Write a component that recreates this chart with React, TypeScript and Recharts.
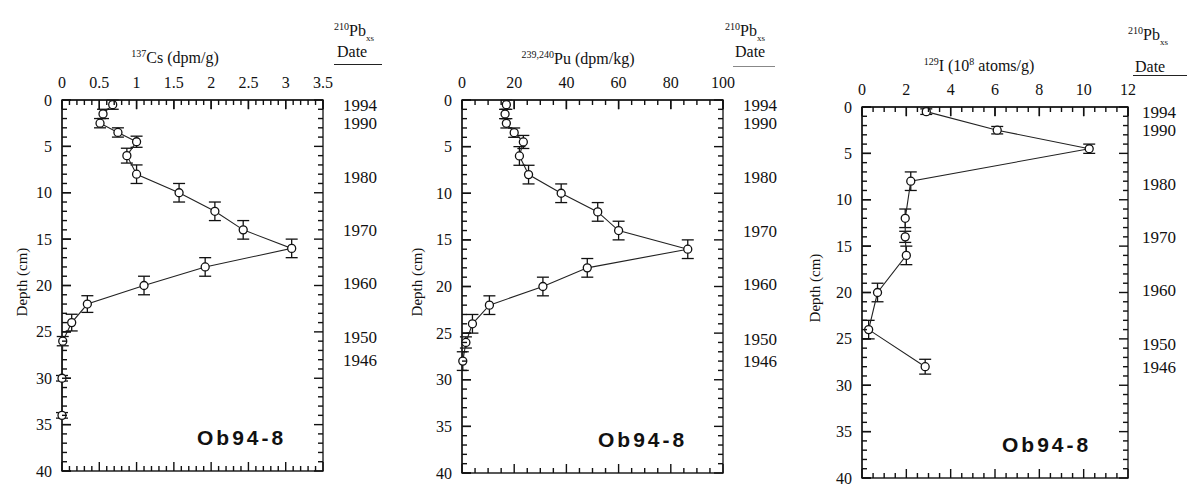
import React from "react";
import { ScatterChart, Scatter, XAxis, YAxis, ErrorBar, ReferenceArea, ReferenceLine } from "recharts";

const serif = "'Liberation Serif', 'Times New Roman', serif";
const sans = "'Liberation Sans', Arial, sans-serif";
const ink = "#111";

// depth axis (cm), shared by all three cores
const depthLabels = [0, 5, 10, 15, 20, 25, 30, 35, 40];
// 210Pb-xs dates, placed at their depths
const dateDepths = [0.5, 2.5, 8.3, 14, 19.7, 25.6, 28];
const dateLabels = ["1994", "1990", "1980", "1970", "1960", "1950", "1946"];

// 137Cs (dpm/g)
const csTicks = [0, 0.5, 1, 1.5, 2, 2.5, 3, 3.5];
const csDepth = [0.5, 1.5, 2.5, 3.5, 4.5, 6, 8, 10, 12, 14, 16, 18, 20, 22, 24, 26, 30, 34];
const csValue = [0.68, 0.55, 0.51, 0.75, 1.0, 0.87, 1.0, 1.57, 2.05, 2.43, 3.08, 1.92, 1.1, 0.34, 0.13, 0.01, 0, 0];
const csErr = [0.5, 0.5, 0.5, 0.5, 0.6, 0.8, 1, 1, 1, 1, 1, 1, 1, 0.9, 0.9, 0.5, 0.3, 0.3];

// 239,240Pu (dpm/kg)
const puTicks = [0, 20, 40, 60, 80, 100];
const puDepth = [0.5, 1.5, 2.5, 3.5, 4.5, 6, 8, 10, 12, 14, 16, 18, 20, 22, 24, 26, 28];
const puValue = [17, 16.5, 17, 20, 23.5, 22, 25.5, 38, 52, 60, 86.5, 48, 31, 10.5, 4, 1.5, 0.3];
const puErr = [0.5, 0.5, 0.5, 0.5, 0.7, 1, 1, 1, 1, 1, 1, 1, 1, 1, 1, 0.6, 1];

// 129I (10^8 atoms/g)
const iTicks = [0, 2, 4, 6, 8, 10, 12];
const iDepth = [0.5, 2.5, 4.5, 8, 12, 14, 16, 20, 24, 28];
const iValue = [2.9, 6.1, 10.25, 2.2, 1.95, 1.95, 2.0, 0.7, 0.3, 2.85];
const iErr = [0.3, 0.4, 0.5, 1, 1, 0.6, 1, 1, 1, 0.8];

const steps = (max: number, step: number) => {
  const out: number[] = [];
  for (let i = 0; i * step <= max + 1e-9; i++) out.push(Math.round(i * step * 1000) / 1000);
  return out;
};

const onStep = (v: number, step: number) => {
  const r = v / step;
  return Math.abs(r - Math.round(r)) < 1e-6;
};

const TOP_MARGIN = 12;
const LEFT_MARGIN = 10;

// top labels plus inward tick marks on top and bottom edges of the frame
function topTick(plotH: number, majorStep: number) {
  return function TopTick(props: any) {
    const X = Number(props.x);
    const Y = Number(props.y);
    const v = Number(props.payload.value);
    const major = onStep(v, majorStep);
    const len = major ? 9 : 5;
    const ay = Y + TOP_MARGIN;
    const by = ay + plotH;
    return (
      <g>
        <rect x={X - 0.7} y={ay} width={1.4} height={len} fill="#111" />
        <rect x={X - 0.7} y={by - len} width={1.4} height={len} fill="#111" />
        {major && (
          <text x={X} y={Y} textAnchor="middle" fontFamily={serif} fontSize={16} fill={ink}>
            {String(v)}
          </text>
        )}
      </g>
    );
  };
}

// depth labels + inward ticks on both sides, and the 210Pb dates on the right
function leftTick(plotW: number, rightGap: number) {
  return function LeftTick(props: any) {
    const X = Number(props.x);
    const Y = Number(props.y);
    const v = Number(props.payload.value);
    const ax = X + LEFT_MARGIN;
    const bx = ax + plotW;
    const isTick = onStep(v, 1);
    const major = depthLabels.includes(v);
    const len = major ? 9 : 5;
    const di = dateDepths.indexOf(v);
    return (
      <g>
        {isTick && <rect x={ax} y={Y - 0.7} width={len} height={1.4} fill="#111" />}
        {isTick && <rect x={bx - len} y={Y - 0.7} width={len} height={1.4} fill="#111" />}
        {major && (
          <text x={X} y={Y + 5.5} textAnchor="end" fontFamily={serif} fontSize={16} fill={ink}>
            {String(v)}
          </text>
        )}
        {di >= 0 && (
          <text x={bx + rightGap} y={Y + 6} textAnchor="start" fontFamily={serif} fontSize={17} fill={ink}>
            {dateLabels[di]}
          </text>
        )}
      </g>
    );
  };
}

const Marker = (p: any) => (
  <circle cx={p.cx} cy={p.cy} r={4} fill="#fff" stroke={ink} strokeWidth={1.3} />
);

interface PanelProps {
  left: number;
  top: number;
  plotW: number;
  plotH: number;
  max: number;
  majors: number[];
  minorStep: number;
  depth: number[];
  value: number[];
  err: number[];
  dateGap: number;
}

const LEFT_W = 40;
const TOP_H = 30;
const RIGHT_SPACE = 70;
const BOTTOM_SPACE = 14;

function Panel({ left, top, plotW, plotH, max, majors, minorStep, depth, value, err, dateGap }: PanelProps) {
  const data = depth.map((d, i) => ({ d, v: value[i], e: err[i] }));
  const xTicks = steps(max, minorStep);
  const yTicks = Array.from(new Set([...steps(40, 1), ...dateDepths])).sort((a, b) => a - b);
  const majorStep = majors[1] - majors[0];
  return (
    <div style={{ position: "absolute", left: left - LEFT_W, top: top - TOP_H }}>
      <ScatterChart
        width={LEFT_W + plotW + RIGHT_SPACE}
        height={TOP_H + plotH + BOTTOM_SPACE}
        margin={{ top: 0, right: RIGHT_SPACE, bottom: BOTTOM_SPACE, left: 0 }}
      >
        <XAxis
          xAxisId="top"
          orientation="top"
          type="number"
          dataKey="v"
          domain={[0, max]}
          ticks={xTicks}
          interval={0}
          minTickGap={0}
          height={TOP_H}
          tickSize={0}
          tickMargin={TOP_MARGIN}
          tickLine={false}
          axisLine={{ stroke: "#222", strokeWidth: 1.4 }}
          tick={topTick(plotH, majorStep)}
        />
        <YAxis
          yAxisId="left"
          orientation="left"
          type="number"
          dataKey="d"
          domain={[0, 40]}
          reversed
          ticks={yTicks}
          interval={0}
          minTickGap={0}
          width={LEFT_W}
          tickSize={0}
          tickMargin={LEFT_MARGIN}
          tickLine={false}
          axisLine={{ stroke: "#222", strokeWidth: 1.4 }}
          tick={leftTick(plotW, dateGap)}
        />
        <ReferenceArea
          xAxisId="top"
          yAxisId="left"
          x1={0}
          x2={max}
          y1={0}
          y2={40}
          fill="none"
          fillOpacity={0}
          stroke="#222"
          strokeWidth={1.4}
          ifOverflow="visible"
        />
        {majors.map((v) => (
          <ReferenceLine
            key={`m${v}`}
            xAxisId="top"
            yAxisId="left"
            segment={[{ x: v, y: 0 }, { x: v, y: 1 }]}
            stroke="#111"
            strokeWidth={1.4}
            ifOverflow="visible"
          />
        ))}
        {depthLabels.map((d) => (
          <ReferenceLine
            key={`n${d}`}
            xAxisId="top"
            yAxisId="left"
            segment={[{ x: 0, y: d }, { x: (max * 9) / plotW, y: d }]}
            stroke="#111"
            strokeWidth={1.4}
            ifOverflow="visible"
          />
        ))}
        <Scatter
          xAxisId="top"
          yAxisId="left"
          data={data}
          isAnimationActive={false}
          line={{ stroke: "#222", strokeWidth: 1.1 }}
          shape={Marker}
        >
          <ErrorBar dataKey="e" direction="y" width={6} stroke={ink} strokeWidth={1.3} />
        </Scatter>
      </ScatterChart>
    </div>
  );
}

const abs = (left: number, top: number, extra: React.CSSProperties = {}): React.CSSProperties => ({
  position: "absolute",
  left,
  top,
  fontFamily: serif,
  color: ink,
  whiteSpace: "nowrap",
  ...extra,
});

function PbHeader({ x, y, dateX, dateY, lineX, lineY, lineW, lineColor }: any) {
  return (
    <>
      <div style={abs(x, y, { fontSize: 16, lineHeight: "18px" })}>
        <sup style={{ fontSize: 10 }}>210</sup>Pb<sub style={{ fontSize: 9 }}>xs</sub>
      </div>
      <div style={abs(dateX, dateY, { fontSize: 16, lineHeight: "18px" })}>Date</div>
      <div style={abs(lineX, lineY, { width: lineW, height: 1, background: lineColor })} />
    </>
  );
}

const DepthLabel = ({ cx, cy }: { cx: number; cy: number }) => (
  <div
    style={abs(cx - 50, cy - 9, {
      width: 100,
      height: 18,
      fontSize: 15,
      lineHeight: "18px",
      textAlign: "center",
      transform: "rotate(-90deg)",
    })}
  >
    Depth (cm)
  </div>
);

const CoreTag = ({ x, y }: { x: number; y: number }) => (
  <div style={abs(x, y, { fontFamily: sans, fontWeight: 700, fontSize: 21, letterSpacing: 3, lineHeight: "22px" })}>
    Ob94-8
  </div>
);

const Title = ({ cx, y, children }: { cx: number; y: number; children: React.ReactNode }) => (
  <div style={abs(cx - 110, y, { width: 220, textAlign: "center", fontSize: 16, lineHeight: "18px" })}>{children}</div>
);

export default function App() {
  return (
    <div style={{ position: "absolute", left: 0, top: 0, width: 1187, height: 486, background: "#fff", overflow: "hidden" }}>
      <Panel left={62} top={100} plotW={261} plotH={371} max={3.5} majors={csTicks} minorStep={0.1}
        depth={csDepth} value={csValue} err={csErr} dateGap={20} />
      <Panel left={462} top={100} plotW={261} plotH={373} max={100} majors={puTicks} minorStep={5}
        depth={puDepth} value={puValue} err={puErr} dateGap={20} />
      <Panel left={862} top={107} plotW={266} plotH={371} max={12} majors={iTicks} minorStep={0.5}
        depth={iDepth} value={iValue} err={iErr} dateGap={14} />

      <Title cx={175} y={45}>
        <sup style={{ fontSize: 10 }}>137</sup>Cs (dpm/g)
      </Title>
      <Title cx={578} y={46}>
        <sup style={{ fontSize: 10 }}>239,240</sup>Pu (dpm/kg)
      </Title>
      <Title cx={979} y={53}>
        <sup style={{ fontSize: 10 }}>129</sup>I (10<sup style={{ fontSize: 10 }}>8</sup> atoms/g)
      </Title>

      <PbHeader x={334} y={18} dateX={337} dateY={43} lineX={334} lineY={64} lineW={48} lineColor="#222" />
      <PbHeader x={725} y={18} dateX={735} dateY={43} lineX={733} lineY={66} lineW={42} lineColor="#888" />
      <PbHeader x={1128} y={22} dateX={1135} dateY={58} lineX={1133} lineY={75} lineW={54} lineColor="#222" />

      <DepthLabel cx={22} cy={282} />
      <DepthLabel cx={417} cy={282} />
      <DepthLabel cx={815} cy={288} />

      <CoreTag x={197} y={427} />
      <CoreTag x={598} y={429} />
      <CoreTag x={1002} y={434} />
    </div>
  );
}
